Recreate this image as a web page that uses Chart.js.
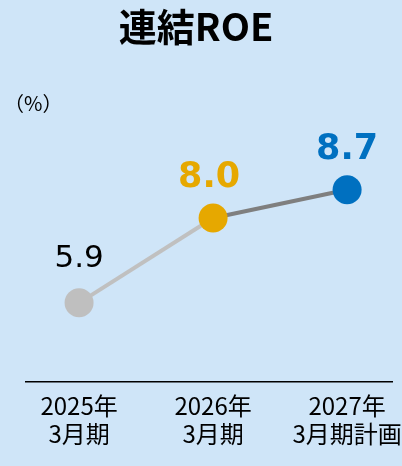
<!DOCTYPE html>
<html>
<head>
<meta charset="utf-8">
<script src="https://cdn.jsdelivr.net/npm/chart.js@4"></script>
<style>
  html, body { margin: 0; padding: 0; background: #cfe5f8; }
  #wrap { width: 402px; height: 466px; position: relative; }
</style>
</head>
<body>
<div id="wrap"><canvas id="roeChart"></canvas></div>
<script>
// Data
const categories = [['2025年', '3月期'], ['2026年', '3月期'], ['2027年', '3月期計画']];
const roeValues = [5.9, 8.0, 8.7];
const valueLabels = ['5.9', '8.0', '8.7'];
const pointColors = ['#bfbfbf', '#e6a800', '#0070c0'];
const labelColors = ['#000000', '#e6a800', '#0070c0'];

const jpFont = '"Noto Sans CJK JP", "Noto Sans", sans-serif';

// title, unit and value labels
const textPlugin = {
    id: 'texts',
    afterDatasetsDraw(chart) {
        const ctx = chart.ctx;
        ctx.save();
        ctx.textAlign = 'center';
        ctx.textBaseline = 'middle';
        ctx.fillStyle = '#000';
        ctx.font = 'bold 38px ' + jpFont;
        ctx.fillText('連結ROE', 196, 27);

        ctx.textAlign = 'left';
        ctx.font = '20px ' + jpFont;
        ctx.fillText('（%）', 4, 103);

        const meta = chart.getDatasetMeta(0);
        meta.data.forEach((pt, i) => {
            ctx.textAlign = 'center';
            ctx.fillStyle = labelColors[i];
            ctx.font = (i === 0 ? '31px ' : 'bold 35px ') + '"DejaVu Sans", sans-serif';
            const dy = i === 0 ? 44 : 40;
            ctx.fillText(valueLabels[i], pt.x - (i === 1 ? 4 : 0), pt.y - dy);
        });
        ctx.restore();
    }
};

const chartCtx = document.getElementById('roeChart').getContext('2d');
const roeChart = new Chart(chartCtx, {
    type: 'line',
    data: {
        datasets: [{
            data: roeValues.map((v, i) => ({ x: i, y: v })),
            borderWidth: 4,
            segment: {
                borderColor: c => c.p0DataIndex === 0 ? '#c0c0c0' : '#7f7f7f'
            },
            pointRadius: 14.5,
            pointHoverRadius: 14.5,
            pointBorderWidth: 0,
            pointBackgroundColor: pointColors,
            tension: 0,
            clip: false
        }]
    },
    options: {
        responsive: true,
        maintainAspectRatio: false,
        animation: false,
        layout: { autoPadding: false, padding: { left: 26, right: 10, top: 130, bottom: 0 } },
        plugins: {
            legend: { display: false },
            tooltip: { enabled: false }
        },
        scales: {
            x: {
                type: 'linear',
                min: -0.396,
                max: 2.335,
                afterBuildTicks: s => { s.ticks = categories.map((c, i) => ({ value: i })); },
                afterFit: s => {
                    s.height = 84;
                    s.paddingLeft = 0;
                    s.paddingRight = 0;
                },
                grid: { display: false, drawTicks: false },
                border: { display: true, color: '#000', width: 1.5 },
                ticks: {
                    autoSkip: false,
                    maxRotation: 0,
                    padding: 10,
                    color: '#000',
                    font: { family: jpFont, size: 24, lineHeight: 1.17 },
                    callback: v => categories[v]
                }
            },
            y: {
                display: false,
                min: 3.94,
                max: 10.18
            }
        }
    },
    plugins: [textPlugin]
});
</script>
</body>
</html>
